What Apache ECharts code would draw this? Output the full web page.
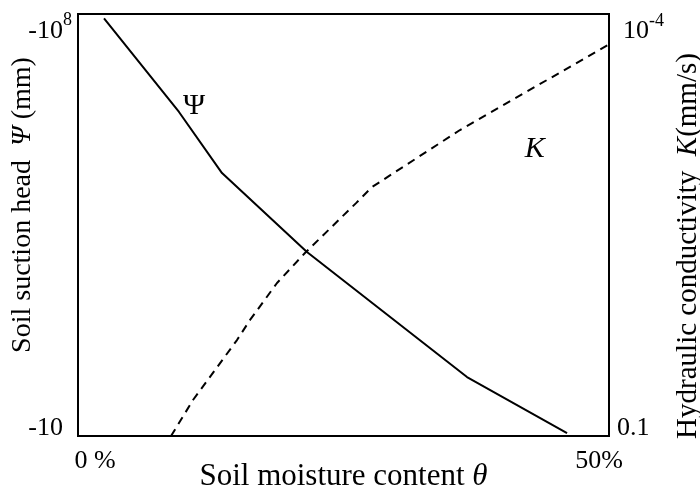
<!DOCTYPE html>
<html><head><meta charset="utf-8">
<script src="https://cdn.jsdelivr.net/npm/echarts@6/dist/echarts.min.js"></script>
<style>html,body{margin:0;padding:0;background:#fff}#c{width:700px;height:491px}</style>
</head><body><div id="c"></div>
<script>
// Soil moisture content θ (%)
var psiX = [2.45, 9.51, 13.56, 21.56, 36.63, 46.05];
// Soil suction head magnitude |Ψ| (mm), axis labelled -10 ... -10^8
var psiY = [8.5e7, 2.37e6, 2.3e5, 1.13e4, 95, 11.2];
var kX = [8.76, 10.83, 14.97, 16.2, 18.74, 21.37, 26.18, 27.68, 35.97, 49.9];
// Hydraulic conductivity K (mm/s)
var kY = [0.1, 0.0555, 0.0208, 0.01496, 0.00817, 0.0050, 0.00221, 0.0017, 6.68e-4, 1.66e-4];
var xTicks = ['0 %', '50%'];
var psiLabelPos = [10.92, 3.0e6];
var kLabelPos = [43.0, 9.1e-4];

var FONT = 'Liberation Serif';
function pairs(xs, ys){ return xs.map(function(x,i){ return [x, ys[i]]; }); }

var chart = echarts.init(document.getElementById('c'));
chart.setOption({
  backgroundColor: '#fff',
  animation: false,
  textStyle: {fontFamily: FONT, color: '#000'},
  grid: {left: 78, right: 91, top: 14, bottom: 55, show: true, borderColor: '#000', borderWidth: 2,
         backgroundColor: 'transparent', containLabel: false, outerBoundsMode: 'none'},
  xAxis: {
    type: 'value', min: 0, max: 50, interval: 50,
    axisLine: {show: false}, axisTick: {show: false}, splitLine: {show: false},
    axisLabel: {
      margin: 12,
      formatter: function(v){ return v === 0 ? '{a|' + xTicks[0] + '}' : '{b|' + xTicks[1] + '}'; },
      rich: {
        a: {fontFamily: FONT, fontSize: 26, color: '#000', padding: [0,0,0,34]},
        b: {fontFamily: FONT, fontSize: 26, color: '#000', padding: [0,20,0,0]}
      }
    },
    name: '{n|Soil moisture content }{t|θ}', nameLocation: 'middle', nameGap: 25, nameMoveOverlap: false,
    nameTextStyle: {
      rich: {
        n: {fontFamily: FONT, fontSize: 31, color: '#000'},
        t: {fontFamily: FONT, fontSize: 31, color: '#000', fontStyle: 'italic'}
      }
    }
  },
  yAxis: [{
    type: 'log', logBase: 10, min: 10, max: 1e8, position: 'left',
    axisLine: {show: false}, axisTick: {show: false}, splitLine: {show: false},
    axisLabel: {
      margin: 6,
      formatter: function(v){
        var e = Math.round(Math.log10(v));
        if (e === 8) return '{t|-10}{s|8}';
        if (e === 1) return '{b|-10}';
        return '';
      },
      rich: {
        t: {fontFamily: FONT, fontSize: 26, color: '#000', padding: [34,0,0,0]},
        s: {fontFamily: FONT, fontSize: 18, color: '#000', padding: [27,0,0,0], verticalAlign: 'top'},
        b: {fontFamily: FONT, fontSize: 26, color: '#000', padding: [0,9,16,0]}
      }
    },
    name: '{n|Soil suction head  }{p|Ψ}{n| (mm)}', nameLocation: 'middle', nameGap: 41, nameMoveOverlap: false,
    nameTextStyle: {
      padding: [0,0,0,40],
      rich: {
        n: {fontFamily: FONT, fontSize: 28, color: '#000'},
        p: {fontFamily: FONT, fontSize: 28, color: '#000', fontStyle: 'italic'}
      }
    }
  }, {
    type: 'log', logBase: 10, min: 1e-4, max: 0.1, inverse: true, position: 'right',
    axisLine: {show: false}, axisTick: {show: false}, splitLine: {show: false},
    axisLabel: {
      margin: 14,
      formatter: function(v){
        var e = Math.round(Math.log10(v));
        if (e === -4) return '{t|10}{s|-4}';
        if (e === -1) return '{b|0.1}';
        return '';
      },
      rich: {
        t: {fontFamily: FONT, fontSize: 26, color: '#000', padding: [34,0,0,0]},
        s: {fontFamily: FONT, fontSize: 18, color: '#000', padding: [28,0,0,0], verticalAlign: 'top'},
        b: {fontFamily: FONT, fontSize: 26, color: '#000', padding: [0,0,16,-6]}
      }
    },
    name: '{n|Hydraulic conductivity  }{k|K}{n|(mm/s)}', nameLocation: 'middle', nameGap: 65, nameMoveOverlap: false,
    nameRotate: 90,
    nameTextStyle: {
      padding: [0,42,0,0],
      rich: {
        n: {fontFamily: FONT, fontSize: 29, color: '#000'},
        k: {fontFamily: FONT, fontSize: 29, color: '#000', fontStyle: 'italic'}
      }
    }
  }],
  series: [{
    name: 'psi', type: 'line', yAxisIndex: 0, data: pairs(psiX, psiY),
    symbol: 'none', lineStyle: {color: '#000', width: 2},
    markPoint: {
      symbol: 'circle', symbolSize: 0,
      label: {show: true, formatter: 'Ψ', fontFamily: FONT, fontSize: 30, color: '#000', position: 'inside'},
      data: [{coord: psiLabelPos}]
    }
  }, {
    name: 'K', type: 'line', yAxisIndex: 1, data: pairs(kX, kY),
    symbol: 'none', lineStyle: {color: '#000', width: 2, type: [8, 6]},
    markPoint: {
      symbol: 'circle', symbolSize: 0,
      label: {show: true, formatter: 'K', fontFamily: FONT, fontSize: 30, fontStyle: 'italic', color: '#000', position: 'inside'},
      data: [{coord: kLabelPos}]
    }
  }]
});
</script></body></html>
